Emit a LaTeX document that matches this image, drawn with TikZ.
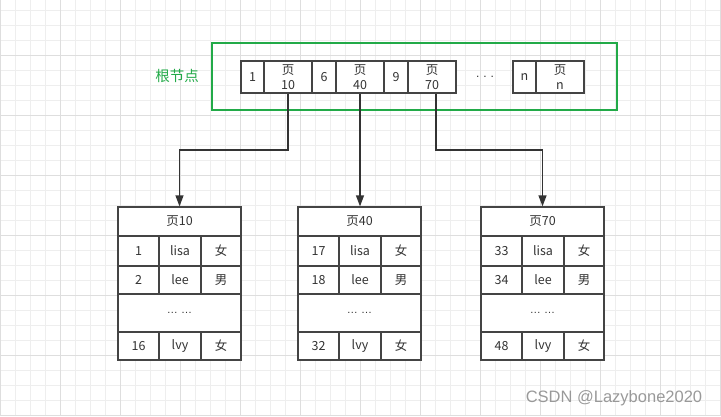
\documentclass[tikz,border=0pt]{standalone}
\usepackage{fontspec}
\setmainfont{Noto Sans CJK SC}
\newfontfamily\latin{Liberation Sans}
\usetikzlibrary{arrows.meta}

\definecolor{gridminor}{RGB}{238,238,238}
\definecolor{gridmajor}{RGB}{222,222,222}
\definecolor{rootgreen}{RGB}{34,170,72}
\definecolor{boxline}{RGB}{68,68,68}
\definecolor{textgray}{RGB}{51,51,51}

\begin{document}
\begin{tikzpicture}[x=1pt,y=-1pt,
    cell/.style={draw=boxline,fill=white,line width=1.3pt,inner sep=0pt,text=textgray,align=center,font=\fontsize{12.5}{15}\selectfont},
    link/.style={draw=textgray,line width=1.3pt,-{Triangle[length=11pt,width=8pt]}}]
    \useasboundingbox (0,0) rectangle (721,416);

    \foreach \i in {0,15,...,720} \draw[gridminor,line width=0.8pt] (\i,0) -- (\i,416);
    \foreach \i in {10,25,...,415} \draw[gridminor,line width=0.8pt] (0,\i) -- (721,\i);
    \foreach \i in {0,60,...,720} \draw[gridmajor,line width=0.8pt] (\i,0) -- (\i,416);
    \foreach \i in {55,115,...,415} \draw[gridmajor,line width=0.8pt] (0,\i) -- (721,\i);

    \node[draw=rootgreen,line width=2pt,minimum width=405pt,minimum height=67pt] (root) at (414.5,76.5) {};
    \node[text=rootgreen,font=\fontsize{14.5}{16}\selectfont] (rootlabel) at (177,76) {根节点};

    \node[cell,minimum width=23pt,minimum height=32pt] (r1) at (252.5,77) {1};
    \node[cell,minimum width=48pt,minimum height=32pt] (p10) at (288,77) {页\\10};
    \node[cell,minimum width=24pt,minimum height=32pt] (r6) at (324,77) {6};
    \node[cell,minimum width=48pt,minimum height=32pt] (p40) at (360,77) {页\\40};
    \node[cell,minimum width=24pt,minimum height=32pt] (r9) at (396,77) {9};
    \node[cell,minimum width=48pt,minimum height=32pt] (p70) at (432,77) {页\\70};
    \node[text=textgray,font=\latin\fontsize{12}{14}\selectfont] (rdots) at (485,77) {.\,\,.\,\,.};
    \node[cell,minimum width=23pt,minimum height=32pt] (rn) at (524.5,77) {n};
    \node[cell,minimum width=48pt,minimum height=32pt] (pn) at (560,77) {页\\n};

    \foreach \pg/\x/\a/\b/\c in {10/118/1/2/16, 40/298/17/18/32, 70/481/33/34/48} {
        \node[cell,minimum width=123pt,minimum height=29pt] (t\pg) at (\x+61.5,221.5) {页\pg};
        \node[cell,minimum width=41pt,minimum height=30pt] (t\pg a1) at (\x+20.5,251) {\a};
        \node[cell,minimum width=42pt,minimum height=30pt] (t\pg b1) at (\x+62,251) {lisa};
        \node[cell,minimum width=40pt,minimum height=30pt] (t\pg c1) at (\x+103,251) {女};
        \node[cell,minimum width=41pt,minimum height=28pt] (t\pg a2) at (\x+20.5,280) {\b};
        \node[cell,minimum width=42pt,minimum height=28pt] (t\pg b2) at (\x+62,280) {lee};
        \node[cell,minimum width=40pt,minimum height=28pt] (t\pg c2) at (\x+103,280) {男};
        \node[cell,minimum width=123pt,minimum height=38pt,font=\latin\fontsize{11}{13}\selectfont] (t\pg dots) at (\x+61.5,313) {\ldots\ \ldots};
        \node[cell,minimum width=41pt,minimum height=28pt] (t\pg a3) at (\x+20.5,346) {\c};
        \node[cell,minimum width=42pt,minimum height=28pt] (t\pg b3) at (\x+62,346) {lvy};
        \node[cell,minimum width=40pt,minimum height=28pt] (t\pg c3) at (\x+103,346) {女};
    }

    \coordinate (b10) at (t10.north |- 0,150);
    \coordinate (s70) at ([xshift=4pt]p70.south);
    \coordinate (b70) at (t70.north |- 0,150);
    \draw[link] (p10.south) |- (b10) -- (t10.north);
    \draw[link] (p40.south) -- (p40.south |- t40.north);
    \draw[link] (s70) |- (b70) -- (t70.north);

    \node[text=black!40,font=\latin\fontsize{16.5}{18}\selectfont] (mark) at (614,398) {CSDN @Lazybone2020};
\end{tikzpicture}
\end{document}
